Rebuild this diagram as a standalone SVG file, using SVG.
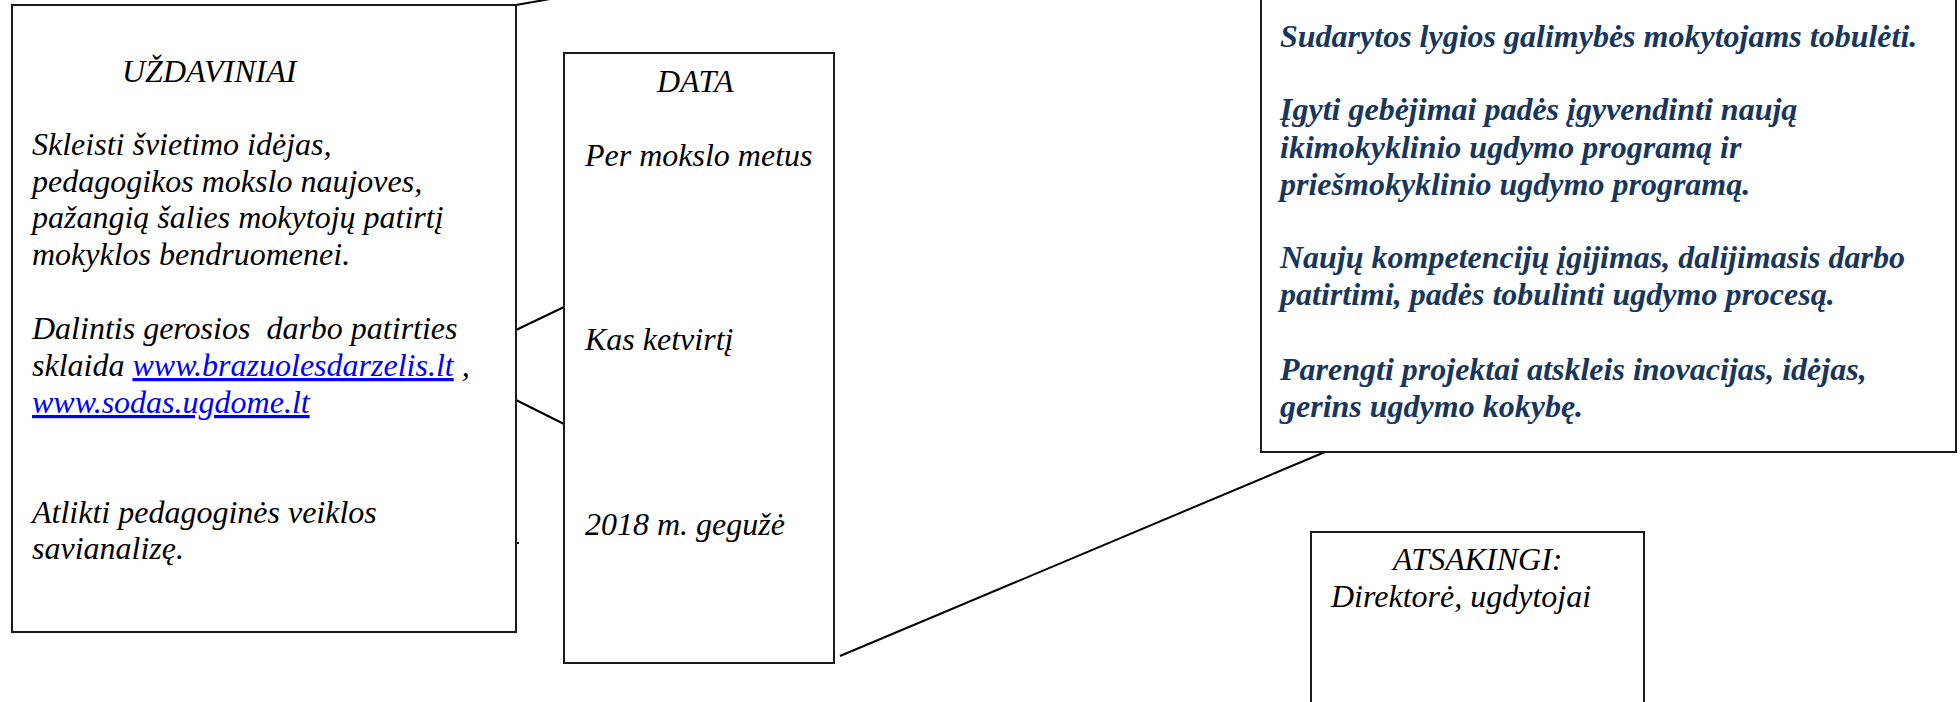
<svg xmlns="http://www.w3.org/2000/svg" width="1960" height="702" viewBox="0 0 1960 702">
<style>
.box{fill:#fff;stroke:#1a1a1a;stroke-width:2}
.t{font-family:"Liberation Serif","Times New Roman",serif;font-style:italic;font-size:32px;fill:#000}
.b{font-family:"Liberation Serif","Times New Roman",serif;font-style:italic;font-weight:bold;font-size:32px;fill:#17365D}
.lnk{fill:#0000FF;text-decoration:underline}
.con{stroke:#000;stroke-width:2;fill:none}
</style>
<rect width="1960" height="702" fill="#fff"/>
<g id="connectors">
<line class="con" x1="516" y1="5" x2="550" y2="-1"/>
<line class="con" x1="516" y1="330" x2="564" y2="307"/>
<line class="con" x1="516" y1="400" x2="564" y2="424"/>
<line class="con" x1="516" y1="543" x2="519" y2="543"/>
<line class="con" x1="840" y1="656" x2="1325" y2="452"/>
</g>
<g id="uzdaviniai">
<rect class="box" x="12" y="5" width="504" height="627"/>
<text class="t" x="122" y="82">UŽDAVINIAI</text>
<text class="t" x="32" y="155">Skleisti švietimo idėjas,</text>
<text class="t" x="32" y="192">pedagogikos mokslo naujoves,</text>
<text class="t" x="32" y="228">pažangią šalies mokytojų patirtį</text>
<text class="t" x="32" y="265">mokyklos bendruomenei.</text>
<text class="t" x="32" y="339" xml:space="preserve">Dalintis gerosios  darbo patirties</text>
<text class="t" x="32" y="376">sklaida <tspan class="lnk">www.brazuolesdarzelis.lt</tspan> ,</text>
<text class="t" x="32" y="413"><tspan class="lnk">www.sodas.ugdome.lt</tspan></text>
<text class="t" x="32" y="523">Atlikti pedagoginės veiklos</text>
<text class="t" x="32" y="559">savianalizę.</text>
</g>
<g id="data">
<rect class="box" x="564" y="53" width="270" height="610"/>
<text class="t" x="657" y="92">DATA</text>
<text class="t" x="585" y="166">Per mokslo metus</text>
<text class="t" x="585" y="350">Kas ketvirtį</text>
<text class="t" x="585" y="535">2018 m. gegužė</text>
</g>
<g id="rezultatai">
<rect class="box" x="1261" y="-10" width="695" height="462"/>
<text class="b" x="1280" y="47">Sudarytos lygios galimybės mokytojams tobulėti.</text>
<text class="b" x="1280" y="120">Įgyti gebėjimai padės įgyvendinti naują</text>
<text class="b" x="1280" y="158">ikimokyklinio ugdymo programą ir</text>
<text class="b" x="1280" y="195">priešmokyklinio ugdymo programą.</text>
<text class="b" x="1280" y="268">Naujų kompetencijų įgijimas, dalijimasis darbo</text>
<text class="b" x="1280" y="305">patirtimi, padės tobulinti ugdymo procesą.</text>
<text class="b" x="1280" y="380">Parengti projektai atskleis inovacijas, idėjas,</text>
<text class="b" x="1280" y="417">gerins ugdymo kokybę.</text>
</g>
<g id="atsakingi">
<rect class="box" x="1311" y="532" width="333" height="190"/>
<text class="t" x="1393" y="570">ATSAKINGI:</text>
<text class="t" x="1331" y="607">Direktorė, ugdytojai</text>
</g>
</svg>
